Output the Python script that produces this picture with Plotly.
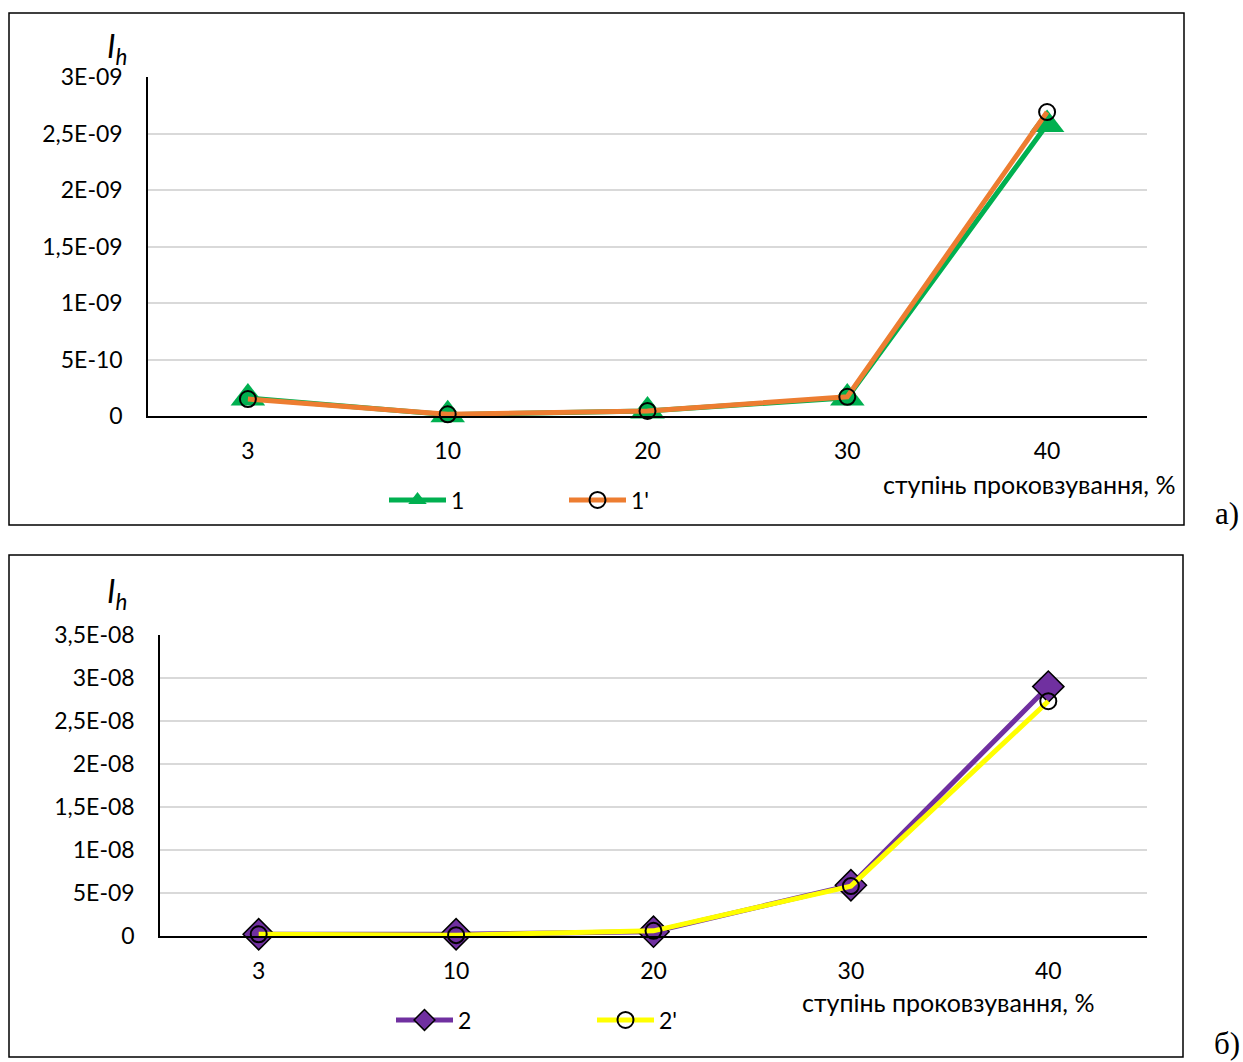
import plotly.graph_objects as go

W, H = 1243, 1062

# slip ratio categories, %
slip = ["3", "10", "20", "30", "40"]

# wear intensity I_h, panel а)
ih_1 = [1.6e-10, 1.2e-11, 4.5e-11, 1.6e-10, 2.58e-9]
ih_1p = [1.5e-10, 1.5e-11, 4.5e-11, 1.7e-10, 2.69e-9]

# wear intensity I_h, panel б)
ih_2 = [2e-10, 2e-10, 5e-10, 5.9e-9, 2.9e-8]
ih_2p = [2e-10, 1e-10, 6e-10, 5.8e-9, 2.73e-8]

# y tick values and labels (comma decimal separator)
yticks_a = [0, 5e-10, 1e-9, 1.5e-9, 2e-9, 2.5e-9, 3e-9]
ylabels_a = ["0", "5E-10", "1E-09", "1,5E-09", "2E-09", "2,5E-09", "3E-09"]
yticks_b = [0, 5e-9, 1e-8, 1.5e-8, 2e-8, 2.5e-8, 3e-8, 3.5e-8]
ylabels_b = ["0", "5E-09", "1E-08", "1,5E-08", "2E-08", "2,5E-08", "3E-08", "3,5E-08"]

x_title = "ступінь проковзування, %"

FONT = "Lato, 'Open Sans', sans-serif"
TICK_FONT = dict(family=FONT, size=23, color="black")


def px(x):
    return x / W


def py(y):
    return 1 - y / H


fig = go.Figure()

# panel а)
fig.add_trace(go.Scatter(
    x=slip, y=ih_1, name="1", mode="lines+markers",
    line=dict(color="#00B050", width=5),
    marker=dict(symbol="triangle-up", size=30, color="#00B050"),
    xaxis="x", yaxis="y", legend="legend", cliponaxis=False))
fig.add_trace(go.Scatter(
    x=slip, y=ih_1p, name="1'", mode="lines+markers",
    line=dict(color="#ED7D31", width=5),
    marker=dict(symbol="circle", size=16, color="rgba(0,0,0,0)",
                line=dict(color="black", width=2)),
    xaxis="x", yaxis="y", legend="legend", cliponaxis=False))

# panel б)
fig.add_trace(go.Scatter(
    x=slip, y=ih_2, name="2", mode="lines+markers",
    line=dict(color="#7030A0", width=5),
    marker=dict(symbol="diamond", size=24, color="#7030A0",
                line=dict(color="black", width=1.5)),
    xaxis="x2", yaxis="y2", legend="legend2", cliponaxis=False))
fig.add_trace(go.Scatter(
    x=slip, y=ih_2p, name="2'", mode="lines+markers",
    line=dict(color="#FFFF00", width=5),
    marker=dict(symbol="circle", size=16, color="rgba(0,0,0,0)",
                line=dict(color="black", width=2)),
    xaxis="x2", yaxis="y2", legend="legend2", cliponaxis=False))

xaxis_common = dict(
    type="category", range=[-0.5, 4.5], showline=True, linecolor="black",
    linewidth=1.5, showgrid=False, zeroline=False, ticks="",
    tickfont=TICK_FONT, ticklabelstandoff=14, fixedrange=True)
yaxis_common = dict(
    showline=True, linecolor="black", linewidth=1.5, showgrid=True,
    gridcolor="#d9d9d9", gridwidth=1.5, zeroline=False, ticks="",
    tickfont=TICK_FONT, ticklabelstandoff=19, fixedrange=True)

legend_common = dict(
    orientation="h", xanchor="left", yanchor="middle",
    font=dict(family=FONT, size=23, color="black"),
    bgcolor="rgba(0,0,0,0)", itemwidth=57,
    itemclick=False, itemdoubleclick=False)

fig.update_layout(
    width=W, height=H, autosize=False,
    margin=dict(l=0, r=0, t=0, b=0, autoexpand=False),
    paper_bgcolor="white", plot_bgcolor="white",
    xaxis=dict(domain=[px(148), px(1147)], anchor="y", **xaxis_common),
    yaxis=dict(domain=[py(416), py(77)], anchor="x", range=[0, 3e-9],
               tickvals=yticks_a, ticktext=ylabels_a, **yaxis_common),
    xaxis2=dict(domain=[px(160), px(1147)], anchor="y2", **xaxis_common),
    yaxis2=dict(domain=[py(936), py(635)], anchor="x2", range=[0, 3.5e-8],
                tickvals=yticks_b, ticktext=ylabels_b, **yaxis_common),
    legend=dict(x=px(384), y=py(500), entrywidth=108, **legend_common),
    legend2=dict(x=px(391), y=py(1020), entrywidth=129, **legend_common),
    showlegend=True,
)

# frames around each panel
fig.add_shape(type="rect", xref="paper", yref="paper",
              x0=px(9), x1=px(1184), y0=py(525), y1=py(13),
              line=dict(color="black", width=1.5))
fig.add_shape(type="rect", xref="paper", yref="paper",
              x0=px(9), x1=px(1183), y0=py(1057), y1=py(555),
              line=dict(color="black", width=1.5))

ann = []
for ylab in (48, 593):
    ann.append(dict(text="<i>I<sub>h</sub></i>", x=px(117), y=py(ylab),
                    xref="paper", yref="paper", showarrow=False,
                    xanchor="center", yanchor="middle",
                    font=dict(family=FONT, size=32, color="black")))
ann.append(dict(text=x_title, x=px(1177), y=py(484), xref="paper",
                yref="paper", showarrow=False, xanchor="right",
                yanchor="middle", font=dict(family=FONT, size=25, color="black")))
ann.append(dict(text=x_title, x=px(948), y=py(1002), xref="paper",
                yref="paper", showarrow=False, xanchor="center",
                yanchor="middle", font=dict(family=FONT, size=25, color="black")))
for lbl, yy in (("а)", 514), ("б)", 1043)):
    ann.append(dict(text=lbl, x=px(1227), y=py(yy), xref="paper",
                    yref="paper", showarrow=False, xanchor="center",
                    yanchor="middle",
                    font=dict(family="'Liberation Serif', serif", size=31,
                              color="black")))
fig.update_layout(annotations=ann)

fig.write_html("out.html")
